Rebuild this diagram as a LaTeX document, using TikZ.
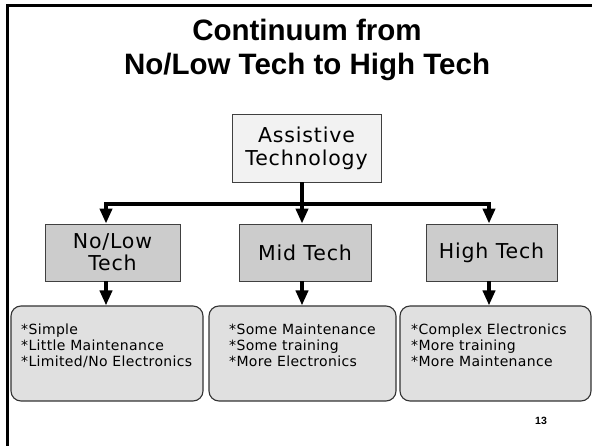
\documentclass[tikz,border=0pt]{standalone}
\usepackage{fontspec}
\setmainfont{DejaVu Sans}
\newfontfamily\titlefont{Liberation Sans}
\newfontfamily\boxfont[LetterSpace=4]{DejaVu Sans}
\newfontfamily\listfont[LetterSpace=2.5]{DejaVu Sans}
\usetikzlibrary{arrows.meta}

\begin{document}
\begin{tikzpicture}[x=1pt,y=-1pt]

\tikzset{top/.style = {draw=black!75, fill=black!5, line width=0.8pt, align=center, font=\boxfont\fontsize{20.5}{23}\selectfont}}
\tikzset{tech/.style = {draw=black!75, fill=black!20, line width=0.8pt, align=center, minimum height=57pt, font=\boxfont\fontsize{20.5}{22}\selectfont}}
\tikzset{info/.style = {draw=black!80, fill=black!12, line width=1.1pt, rounded corners=10pt, minimum height=95pt}}
\tikzset{list/.style = {anchor=north west, inner sep=0pt, align=left, font=\listfont\fontsize{14}{16}\selectfont}}
\tikzset{link/.style = {line width=4pt, -{Triangle[width=12pt,length=15pt]}}}

\useasboundingbox (0,0) rectangle (592,446);
%frame
\draw[line width=3pt] (592,6) -- (7,6) -- (7,446);
%title
\node[anchor=north, inner sep=0pt, align=center, font=\titlefont\bfseries\fontsize{29.5}{34}\selectfont] (title) at (307,18.5) {Continuum from\\No/Low Tech to High Tech};
%boxes
\node[top, minimum width=149pt, minimum height=68pt] (at) at (306.5,148) {Assistive\\Technology};
\node[tech, minimum width=135pt] (nolow) at (112.5,252.5) {No/Low\\Tech};
\node[tech, minimum width=132pt] (mid) at (305,252.5) {Mid Tech};
\node[tech, minimum width=131pt] (high) at (491.5,252.5) {High Tech};
\node[info, minimum width=192pt] (lo1) at (107,353.5) {};
\node[info, minimum width=187pt] (lo2) at (302.5,353.5) {};
\node[info, minimum width=191pt] (lo3) at (495.5,353.5) {};
\node[list] (lo1txt) at (21,323.5) {*Simple\\*Little Maintenance\\*Limited/No Electronics};
\node[list] (lo2txt) at (229,323.5) {*Some Maintenance\\*Some training\\*More Electronics};
\node[list] (lo3txt) at (411,323.5) {*Complex Electronics\\*More training\\*More Maintenance};
\node[font=\titlefont\bfseries\fontsize{10.5}{12}\selectfont] (page) at (541,421) {13};
%arrows
\coordinate (bl) at (106,204);
\coordinate (bm) at (302,204);
\coordinate (br) at (489,204);
\draw[line width=4pt, {Triangle[width=12pt,length=15pt]}-{Triangle[width=12pt,length=15pt]}] (bl |- nolow.north) -- (bl) -- (br) -- (br |- high.north);
\draw[link] (at.south -| bm) -- (mid.north -| bm);
\draw[link] (nolow.south -| bl) -- (lo1.north -| bl);
\draw[link] (mid.south -| bm) -- (lo2.north -| bm);
\draw[link] (high.south -| br) -- (lo3.north -| br);

\end{tikzpicture}
\end{document}
